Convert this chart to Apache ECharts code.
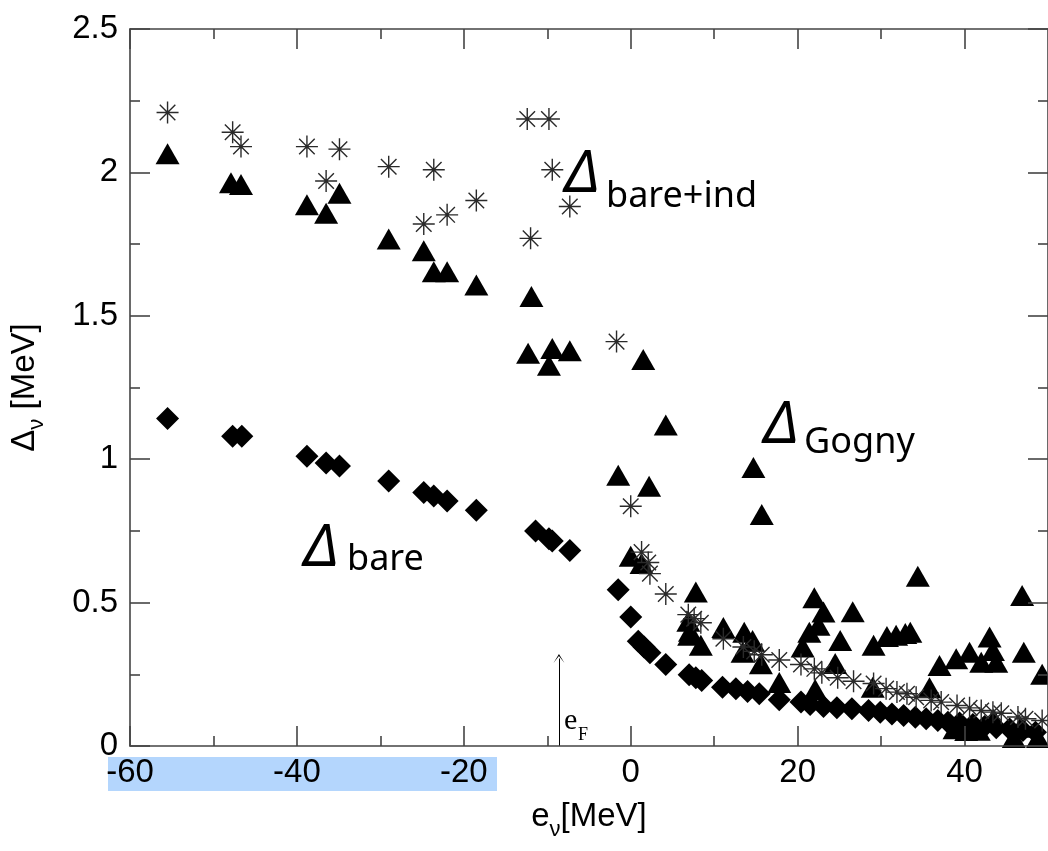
<!DOCTYPE html>
<html><head><meta charset="utf-8">
<script src="https://cdn.jsdelivr.net/npm/echarts@6/dist/echarts.min.js"></script>
<style>html,body{margin:0;padding:0;background:#fff}#c{width:1048px;height:851px}</style>
</head><body><div id="c"></div><script>
// Δ_bare (diamonds)
const bare = [[-55.5,1.142],[-47.7,1.08],[-46.6,1.08],[-38.8,1.01],[-36.5,0.987],[-34.9,0.976],[-29.0,0.924],[-24.8,0.884],[-23.6,0.872],[-22.0,0.854],[-18.5,0.822],[-11.4,0.75],[-9.8,0.723],[-9.4,0.715],[-7.3,0.682],[-1.5,0.545],[0.0,0.45],[0.9,0.365],[1.6,0.345],[2.3,0.325],[4.2,0.284],[7.0,0.248],[7.8,0.238],[8.5,0.228],[11.0,0.205],[12.6,0.2],[14.0,0.19],[15.4,0.182],[17.8,0.161],[20.4,0.153],[21.5,0.145],[23.1,0.138],[24.7,0.133],[26.5,0.13],[28.5,0.124],[29.9,0.118],[31.3,0.112],[32.7,0.106],[34.1,0.1],[35.4,0.095],[36.8,0.089],[38.0,0.083],[39.4,0.08],[41.0,0.075],[42.4,0.068],[43.8,0.064],[45.4,0.059],[47.0,0.054],[48.5,0.048]];
// Δ_Gogny (triangles)
const gogny = [[-55.5,2.065],[-47.9,1.964],[-46.7,1.958],[-38.8,1.887],[-36.5,1.858],[-34.9,1.927],[-29.0,1.768],[-24.8,1.727],[-23.6,1.654],[-22.0,1.654],[-18.5,1.607],[-11.9,1.567],[-12.3,1.369],[-9.4,1.386],[-9.8,1.328],[-7.3,1.378],[-1.5,0.944],[0.0,0.662],[1.3,0.636],[1.5,1.348],[2.2,0.906],[4.2,1.119],[6.9,0.435],[7.1,0.40],[7.0,0.386],[7.8,0.537],[8.4,0.351],[11.1,0.413],[13.4,0.327],[13.6,0.397],[14.6,0.368],[14.7,0.971],[15.6,0.287],[15.7,0.807],[17.8,0.221],[20.6,0.345],[21.4,0.397],[22.0,0.517],[22.1,0.197],[22.5,0.421],[23.1,0.467],[24.5,0.288],[25.1,0.368],[26.6,0.468],[29.0,0.205],[29.1,0.351],[30.7,0.382],[31.8,0.386],[32.9,0.392],[33.5,0.397],[34.4,0.592],[35.8,0.203],[37.0,0.281],[38.8,0.06],[39.0,0.304],[40.2,0.054],[40.6,0.327],[41.7,0.055],[42.0,0.292],[43.0,0.38],[43.4,0.333],[43.5,0.093],[43.8,0.292],[45.9,0.03],[46.7,0.065],[46.9,0.525],[47.1,0.327],[48.8,0.03],[49.3,0.25]];
// Δ_bare+ind (asterisks)
const bareInd = [[-55.5,2.209],[-47.7,2.14],[-46.7,2.09],[-38.8,2.09],[-36.5,1.97],[-34.9,2.081],[-29.0,2.02],[-24.8,1.82],[-23.6,2.009],[-22.0,1.852],[-18.5,1.902],[-12.4,2.186],[-12.0,1.77],[-9.8,2.186],[-9.4,2.009],[-7.3,1.881],[-1.7,1.41],[0.0,0.836],[1.3,0.676],[2.1,0.64],[2.3,0.601],[4.2,0.53],[6.9,0.458],[7.6,0.444],[8.4,0.43],[11.1,0.374],[13.5,0.345],[14.8,0.33],[15.7,0.318],[17.8,0.3],[20.4,0.284],[22.0,0.269],[22.9,0.255],[24.8,0.238],[26.7,0.226],[29.1,0.218],[30.6,0.2],[31.9,0.188],[33.1,0.182],[34.2,0.17],[36.0,0.159],[37.2,0.153],[39.1,0.141],[40.6,0.133],[42.0,0.124],[43.4,0.118],[44.4,0.114],[46.4,0.101],[47.3,0.095],[49.3,0.089]];
const fermiArrow = [[-8.6,0],[-8.6,0.305]];
const xMajor = [-60,-40,-20,0,20,40];
const xMinor = [-50,-30,-10,10,30];
const yTicks = [0,0.5,1,1.5,2,2.5];

const FF = 'Liberation Sans, Arial, sans-serif';
const axisCol = '#444';
const lineSt = {color: axisCol, width: 1.6};
const asterisk = 'path://M10,0L10,20M0,10L20,10M2.93,2.93L17.07,17.07M2.93,17.07L17.07,2.93M9,9L11,9L11,11L9,11Z';

function xAx(pos, ticks, len, showLine, labels, name) {
  const a = {
    type: 'value', position: pos, min: -60, max: 50, z: 5,
    axisLine: {show: showLine, onZero: false, lineStyle: lineSt},
    axisTick: {show: true, inside: true, length: len, customValues: ticks, lineStyle: lineSt},
    axisLabel: labels ? {show: true, customValues: ticks, fontSize: 33, margin: 10, color: '#000', fontFamily: FF} : {show: false},
    splitLine: {show: false}, minorTick: {show: false}
  };
  if (name) {
    a.name = '{m|e}{s|ν}{m|[MeV]}';
    a.nameLocation = 'middle';
    a.nameGap = 54;
    a.nameTextStyle = {rich: {
      m: {fontSize: 33, fontFamily: FF, color: '#000', verticalAlign: 'bottom', padding: [0,0,8,0]},
      s: {fontSize: 22, fontFamily: FF, color: '#000', verticalAlign: 'bottom'}
    }};
  }
  return a;
}
function yAx(pos, labels) {
  const a = {
    type: 'value', position: pos, min: 0, max: 2.5, interval: 0.5, z: 5,
    axisLine: {show: true, onZero: false, lineStyle: lineSt},
    axisTick: {show: true, inside: true, length: 20, lineStyle: lineSt},
    minorTick: {show: true, splitNumber: 2, length: 10, lineStyle: lineSt},
    axisLabel: labels ? {show: true, fontSize: 33, margin: 12, color: '#000', fontFamily: FF,
      formatter: v => String(yTicks.find(t => Math.abs(t - v) < 1e-6) ?? v)} : {show: false},
    splitLine: {show: false}
  };
  if (labels) {
    a.name = '{m|Δ}{s|ν}{m| [MeV]}';
    a.nameLocation = 'middle';
    a.nameRotate = 90;
    a.nameGap = 82;
    a.nameTextStyle = {rich: {
      m: {fontSize: 33, fontFamily: FF, color: '#000', verticalAlign: 'bottom', padding: [0,0,7,0]},
      s: {fontSize: 22, fontFamily: FF, color: '#000', verticalAlign: 'bottom'}
    }};
  }
  return a;
}

const chart = echarts.init(document.getElementById('c'), null, {renderer: 'canvas'});
const AF = 'Noto Sans, sans-serif';
function txt(t, x, y, size, italic, family) {
  return {type: 'text', z: 20, style: {text: t, x: x, y: y, fill: '#000',
    font: (italic ? 'italic ' : '') + size + 'px ' + (family || AF),
    textAlign: 'left', align: 'left', textVerticalAlign: 'middle', verticalAlign: 'middle'}};
}
chart.setOption({
  animation: false,
  backgroundColor: '#fff',
  grid: {left: 128, right: -5, top: 29, bottom: 105, containLabel: false},
  xAxis: [xAx('bottom', xMajor, 20, true, true, true), xAx('bottom', xMinor, 10, false, false, false),
          xAx('top', xMajor, 20, true, false, false), xAx('top', xMinor, 10, false, false, false)],
  yAxis: [yAx('left', true), yAx('right', false)],
  graphic: [
    {type: 'rect', z: -1, shape: {x: 108, y: 757, width: 389, height: 34}, style: {fill: '#b4d6fd'}},
    txt('Δ', 565, 175, 58, true),
    txt('bare+ind', 606, 197, 36, false),
    txt('Δ', 764, 426, 58, true),
    txt('Gogny', 804, 443, 36, false),
    txt('Δ', 304, 549, 58, true),
    txt('bare', 347, 560, 36, false),
    txt('e', 564, 721, 30, false, 'Liberation Serif, serif'),
    txt('F', 578, 735, 18, false, 'Liberation Serif, serif')
  ],
  series: [
    {type: 'scatter', name: 'bare', data: bare, symbol: 'diamond', symbolSize: [23, 23],
     itemStyle: {color: '#000', opacity: 1}, z: 3,
     markLine: {silent: true, symbol: ['none', 'path://M5,0L10,9L5,2L0,9Z'], symbolSize: [11, 9],
       label: {show: false}, lineStyle: {color: '#000', width: 1, type: 'solid', opacity: 1},
       emphasis: {disabled: true},
       data: [[{coord: fermiArrow[0]}, {coord: fermiArrow[1]}]]}},
    {type: 'scatter', name: 'gogny', data: gogny, symbol: 'triangle', symbolSize: [24, 21],
     itemStyle: {color: '#000', opacity: 1}, z: 3},
    {type: 'scatter', name: 'bareInd', data: bareInd, symbol: asterisk, symbolSize: [22, 22],
     itemStyle: {color: '#111', borderColor: '#2a2a2a', borderWidth: 1.4, opacity: 1}, z: 4}
  ]
});
</script></body></html>
